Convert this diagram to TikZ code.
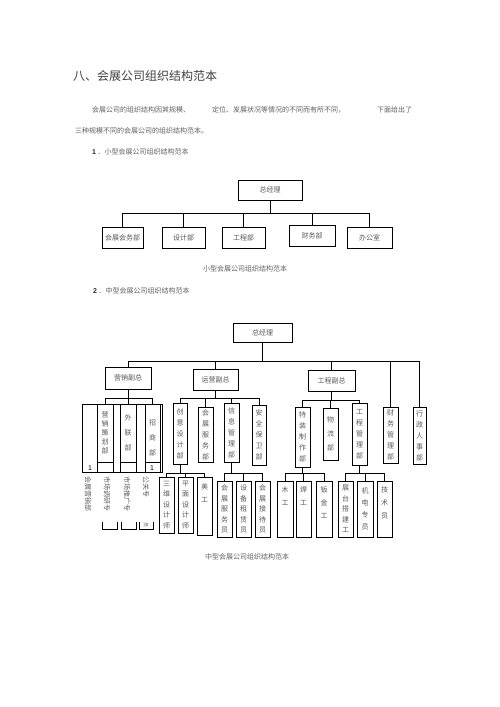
\documentclass[tikz,border=0pt]{standalone}
\usepackage{fontspec}
\setmainfont{Noto Sans CJK SC}
\newfontfamily\lat{Liberation Sans}
\begin{document}
\begin{tikzpicture}[x=1pt,y=-1pt,
  box/.style={draw=black, line width=0.5pt, inner sep=0pt, text=black!65, font=\fontsize{7}{8}\selectfont},
  vbox/.style={box, align=center, font=\fontsize{7}{#1}\selectfont, minimum width=15pt},
  conn/.style={draw=black, line width=0.5pt},
  txt/.style={inner sep=0pt, text=black!62, font=\fontsize{7}{8}\selectfont, anchor=west}]
\useasboundingbox[fill=white] (0,0) rectangle (500,707);

% ---------- text ----------
\node[txt, font=\fontsize{12}{14}\selectfont, text=black!75] (title) at (73,76) {八、会展公司组织结构范本};
\node[txt] (p1a) at (92,110) {会展公司的组织结构因其规模、};
\node[txt] (p1b) at (212,110) {定位、发展状况等情况的不同而有所不同，};
\node[txt] (p1c) at (377,110) {下面给出了};
\node[txt] (p2) at (75,131) {三种规模不同的会展公司的组织结构范本。};
\node[txt] (p3) at (92,152) {{\lat\bfseries\color{black!85} 1} ．小型会展公司组织结构范本};

% ---------- small chart ----------
\node[box, minimum width=64pt, minimum height=20pt] (sgm) at (270,190) {总经理};
\node[box, minimum width=41pt, minimum height=21pt] (s1) at (122.5,237.5) {会展会务部};
\node[box, minimum width=43pt, minimum height=21pt] (s2) at (183.5,237.5) {设计部};
\node[box, minimum width=43pt, minimum height=21pt] (s3) at (243.5,237.5) {工程部};
\node[box, minimum width=46pt, minimum height=21pt] (s4) at (312,235.5) {财务部};
\node[box, minimum width=45pt, minimum height=21pt] (s5) at (369.5,237.5) {办公室};
\coordinate (sb) at (0,213);
\draw[conn] (sgm.south) -- (sgm.south |- sb);
\draw[conn] (s1.north |- sb) -- (s5.north |- sb);
\foreach \n in {s1,s2,s3,s4,s5} \draw[conn] (\n.north) -- (\n.north |- sb);
\node[txt, anchor=center] (cap1) at (245,269) {小型会展公司组织结构范本};

% ---------- medium chart ----------
\node[txt] (p4) at (93,291) {{\lat\bfseries\color{black!85} 2} ．中型会展公司组织结构范本};
\node[box, minimum width=59pt, minimum height=19pt] (mgm) at (262.5,332.5) {总经理};
\node[box, minimum width=46pt, minimum height=22pt] (v1) at (128,378) {营销副总};
\node[box, minimum width=45pt, minimum height=21pt] (v2) at (215.5,379.5) {运营副总};
\node[box, minimum width=47pt, minimum height=21pt] (v3) at (331.5,380.5) {工程副总};
\node[vbox=11, minimum height=56pt] (cw) at (390.5,435) {财\\务\\管\\理\\部};
\node[vbox=11, minimum width=13pt, minimum height=57pt] (xr) at (419.5,435.5) {行\\政\\人\\事\\部};
\coordinate (mb) at (0,361);
\draw[conn] (mgm.south) -- (mgm.south |- mb);
\draw[conn] (v1.north |- mb) -- (xr.north |- mb);
\foreach \n in {v1,v2,v3,cw,xr} \draw[conn] (\n.north) -- (\n.north |- mb);

% marketing group
\node[draw=black, line width=0.5pt, inner sep=0pt, minimum width=80pt, minimum height=68pt] (mfr) at (122,438) {};
\node[vbox=9, minimum width=16pt, minimum height=58pt] (m1) at (105,433) {营\\销\\策\\划\\部};
\node[vbox=15, minimum width=16pt, minimum height=58pt] (m2) at (128,433) {外\\联\\部};
\node[vbox=15, minimum height=58pt] (m3) at (152.5,433) {\\招\\商\\部};
\foreach \n in {m1,m2,m3} {
  \draw[conn] (\n.south west) -- (\n.south west |- mfr.south);
  \draw[conn] (\n.south east) -- (\n.south east |- mfr.south);
}
\coordinate (vb1) at (0,398);
\draw[conn] (v1.south) -- (v1.south |- vb1);
\draw[conn] (m1.north |- vb1) -- (m3.north |- vb1);
\foreach \n in {m1,m2,m3} \draw[conn] (\n.north) -- (\n.north |- vb1);
\node[txt, anchor=base, text=black, font=\lat\fontsize{7}{8}\selectfont] (one1) at (90,470) {1};
\node[txt, anchor=base, text=black, font=\lat\fontsize{7}{8}\selectfont] (one2) at (152,470) {1};
\node[txt, rotate=-90] (r1) at (88,476) {会展营销部};
\node[txt, rotate=-90] (r2) at (107,476) {市场调研专};
\node[txt, rotate=-90] (r3) at (127,476) {市场推广专};
\node[txt, rotate=-90] (r4) at (146,476) {公关专};
\draw[conn] (102,522) -- (102,529) -- (117,529) -- (117,522);
\draw[conn] (121,522) -- (121,529) -- (136,529) -- (136,522);
\draw[conn] (139,522) -- (139,529) -- (153,529) -- (153,522);
\node[txt, anchor=center, rotate=-90, font=\fontsize{5}{6}\selectfont] (yuan) at (146,525) {员};

% operations group
\node[vbox=11, minimum width=14pt, minimum height=61pt] (c1) at (180,433.5) {创\\意\\设\\计\\部};
\node[vbox=11, minimum height=55pt] (c2) at (205.5,434.5) {会\\展\\服\\务\\部};
\node[vbox=11, minimum height=59pt] (c3) at (231.5,432.5) {信\\息\\管\\理\\部};
\node[vbox=11, minimum width=14pt, minimum height=60pt] (c4) at (259,435) {安\\全\\保\\卫\\部};
\coordinate (vb2) at (0,398);
\draw[conn] (v2.south) -- (v2.south |- vb2);
\draw[conn] (c1.north |- vb2) -- (c4.north |- vb2);
\foreach \n in {c1,c2,c3,c4} \draw[conn] (\n.north) -- (\n.north |- vb2);

\node[vbox=10.5, minimum height=56pt] (d1) at (166.5,505) {三\\维\\设\\计\\师};
\node[vbox=10.5, minimum height=56pt] (d2) at (185.5,505) {平\\面\\设\\计\\师};
\node[vbox=13, minimum height=58pt] (d3) at (204.5,506) {美\\工\\ \\};
\coordinate (cb1) at (0,473);
\draw[conn] (c1.south) -- (c1.south |- cb1);
\draw[conn] (d1.north |- cb1) -- (d3.north |- cb1);
\foreach \n in {d1,d2,d3} \draw[conn] (\n.north) -- (\n.north |- cb1);

\node[vbox=10.5, minimum height=56pt] (e1) at (224.5,509) {会\\展\\服\\务\\员};
\node[vbox=10.5, minimum height=56pt] (e2) at (243.5,509) {设\\备\\租\\赁\\员};
\node[vbox=10.5, minimum height=56pt] (e3) at (262.5,509) {会\\展\\接\\待\\员};
\draw[conn] (c3.south) -- (c3.south |- cb1);
\draw[conn] (e1.north |- cb1) -- (e3.north |- cb1);
\foreach \n in {e1,e2,e3} \draw[conn] (\n.north) -- (\n.north |- cb1);

% engineering group
\node[vbox=11, minimum height=60pt] (f1) at (302.5,437) {特\\装\\制\\作\\部};
\node[vbox=14, minimum height=52pt] (f2) at (330.5,434) {物\\流\\部};
\node[vbox=11, minimum height=62pt] (f3) at (359.5,434) {工\\程\\管\\理\\部};
\coordinate (vb3) at (0,400);
\draw[conn] (v3.south) -- (v3.south |- vb3);
\draw[conn] (f1.north |- vb3) -- (f3.north |- vb3);
\foreach \n in {f1,f2,f3} \draw[conn] (\n.north) -- (\n.north |- vb3);

\node[vbox=13, minimum width=16pt, minimum height=56pt] (g1) at (285,509) {木\\工\\ \\};
\node[vbox=13, minimum height=56pt] (g2) at (303.5,509) {焊\\工\\ \\};
\node[vbox=13, minimum width=16pt, minimum height=56pt] (g3) at (324,509) {钣\\金\\工\\ };
\draw[conn] (f1.south) -- (f1.south |- cb1);
\draw[conn] (g1.north |- cb1) -- (g3.north |- cb1);
\foreach \n in {g1,g2,g3} \draw[conn] (\n.north) -- (\n.north |- cb1);

\node[vbox=10.5, minimum height=56pt] (h1) at (345.5,509) {展\\台\\搭\\建\\工};
\node[vbox=12, minimum width=16pt, minimum height=56pt] (h2) at (365,509) {机\\电\\专\\员};
\node[vbox=13, minimum height=56pt] (h3) at (384.5,509) {技\\术\\员\\ };
\draw[conn] (f3.south) -- (f3.south |- cb1);
\draw[conn] (h1.north |- cb1) -- (h3.north |- cb1);
\foreach \n in {h1,h2,h3} \draw[conn] (\n.north) -- (\n.north |- cb1);

\node[txt, anchor=center] (cap2) at (247,557) {中型会展公司组织结构范本};
\end{tikzpicture}
\end{document}
